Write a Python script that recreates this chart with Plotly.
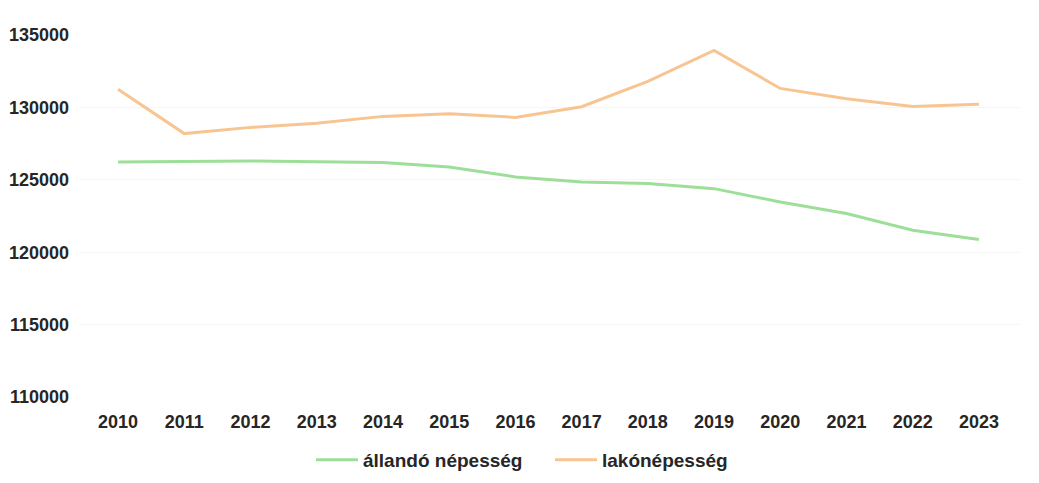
import plotly.graph_objects as go

years = ["2010", "2011", "2012", "2013", "2014", "2015", "2016",
         "2017", "2018", "2019", "2020", "2021", "2022", "2023"]
allando = [126230, 126270, 126300, 126240, 126190, 125880, 125200,
           124850, 124740, 124390, 123470, 122670, 121520, 120880]
lakonepesseg = [131250, 128190, 128620, 128900, 129380, 129560, 129310,
                130050, 131800, 133930, 131310, 130600, 130070, 130210]
y_ticks = [110000, 115000, 120000, 125000, 130000, 135000]

fig = go.Figure()
fig.add_trace(go.Scatter(x=list(range(len(years))), y=allando, mode="lines",
                         name="állandó népesség",
                         line=dict(color="#9ddf99", width=3)))
fig.add_trace(go.Scatter(x=list(range(len(years))), y=lakonepesseg, mode="lines",
                         name="lakónépesség",
                         line=dict(color="#f8c592", width=3)))

font_family = "Arial"
fig.update_layout(
    width=1039, height=483,
    margin=dict(l=72, r=27, t=27, b=94),
    paper_bgcolor="white", plot_bgcolor="white",
    font=dict(family=font_family, size=18, color="#262626"),
    showlegend=True,
    legend=dict(orientation="h", x=0.5, xanchor="center", y=-0.174, yanchor="middle",
                font=dict(size=19, family=font_family, weight="bold"), itemwidth=42,
                entrywidth=182),
    xaxis=dict(tickmode="array", tickvals=list(range(len(years))), ticktext=years,
               range=[-0.575, 13.62], showgrid=False, zeroline=False, showline=False,
               automargin=False,
               tickfont=dict(size=18, weight="bold"), ticks="", ticklabelstandoff=12),
    yaxis=dict(tickmode="array", tickvals=y_ticks, ticktext=[str(v) for v in y_ticks],
               range=[110000, 135000], showgrid=True, gridcolor="#f6f6f6",
               zeroline=False, showline=False, automargin=False,
               tickfont=dict(size=18, weight="bold"), ticks="", ticklabelstandoff=10),
)
fig.write_html("out.html")
